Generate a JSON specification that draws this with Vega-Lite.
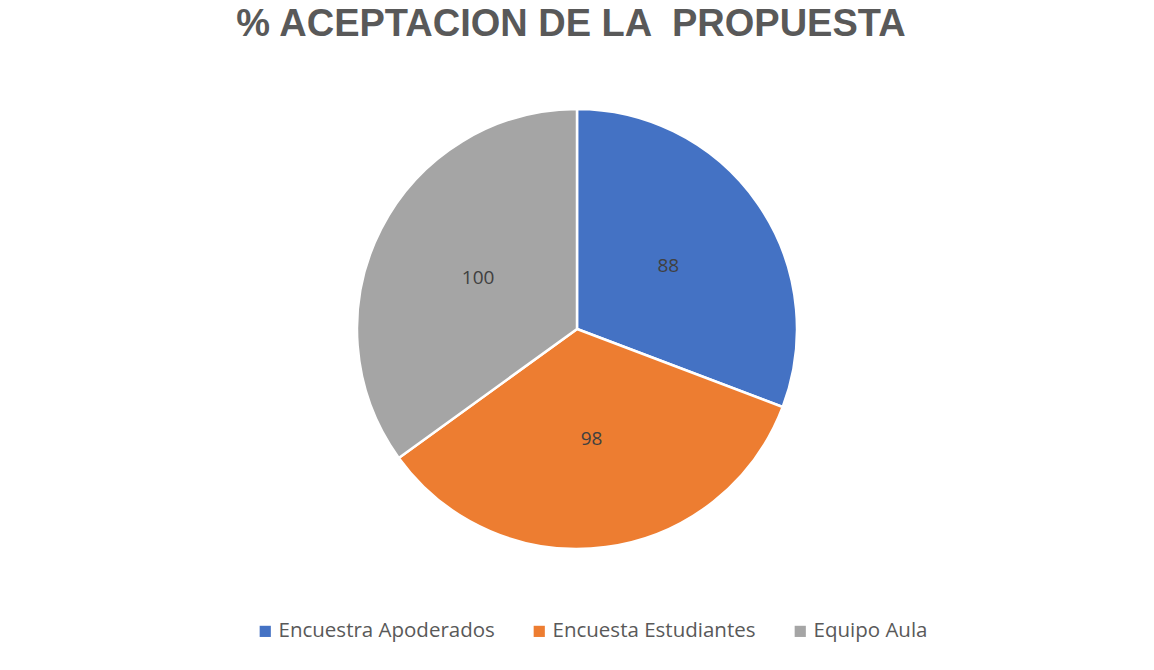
{
  "$schema": "https://vega.github.io/schema/vega-lite/v6.json",
  "width": 1154,
  "height": 658,
  "autosize": "none",
  "padding": {"top": 0, "left": 0, "right": 0, "bottom": 12},
  "background": "white",
  "title": {
    "text": "% ACEPTACION DE LA \u00a0PROPUESTA",
    "font": "Liberation Sans",
    "fontSize": 38,
    "fontWeight": "bold",
    "color": "#595959",
    "anchor": "middle",
    "dy": 48,
    "dx": -6
  },
  "data": {
    "values": [
      {"categoria": "Encuestra Apoderados", "valor": 88, "orden": 1},
      {"categoria": "Encuesta Estudiantes", "valor": 98, "orden": 2},
      {"categoria": "Equipo Aula", "valor": 100, "orden": 3}
    ]
  },
  "encoding": {
    "theta": {"field": "valor", "type": "quantitative", "stack": true},
    "order": {"field": "orden", "type": "quantitative"},
    "color": {
      "field": "categoria",
      "type": "nominal",
      "sort": ["Encuestra Apoderados", "Encuesta Estudiantes", "Equipo Aula"],
      "scale": {
        "domain": ["Encuestra Apoderados", "Encuesta Estudiantes", "Equipo Aula"],
        "range": ["#4472C4", "#ED7D31", "#A5A5A5"]
      },
      "legend": {
        "title": null,
        "orient": "none",
        "legendX": 255,
        "legendY": 621,
        "direction": "horizontal",
        "symbolType": "square",
        "symbolSize": 125,
        "symbolStrokeWidth": 0,
        "labelFont": "Open Sans",
        "labelFontSize": 20.5,
        "labelColor": "#595959",
        "labelLimit": 0,
        "columnPadding": 34,
        "symbolOffset": 0,
        "labelOffset": 3
      }
    }
  },
  "layer": [
    {
      "mark": {"type": "arc", "outerRadius": 220, "stroke": "white", "strokeWidth": 2.5}
    },
    {
      "mark": {"type": "text", "radius": 111, "font": "Open Sans", "fontSize": 19, "fill": "#404040"},
      "encoding": {
        "text": {"field": "valor", "type": "quantitative"},
        "color": {"value": "#404040"}
      }
    }
  ]
}
